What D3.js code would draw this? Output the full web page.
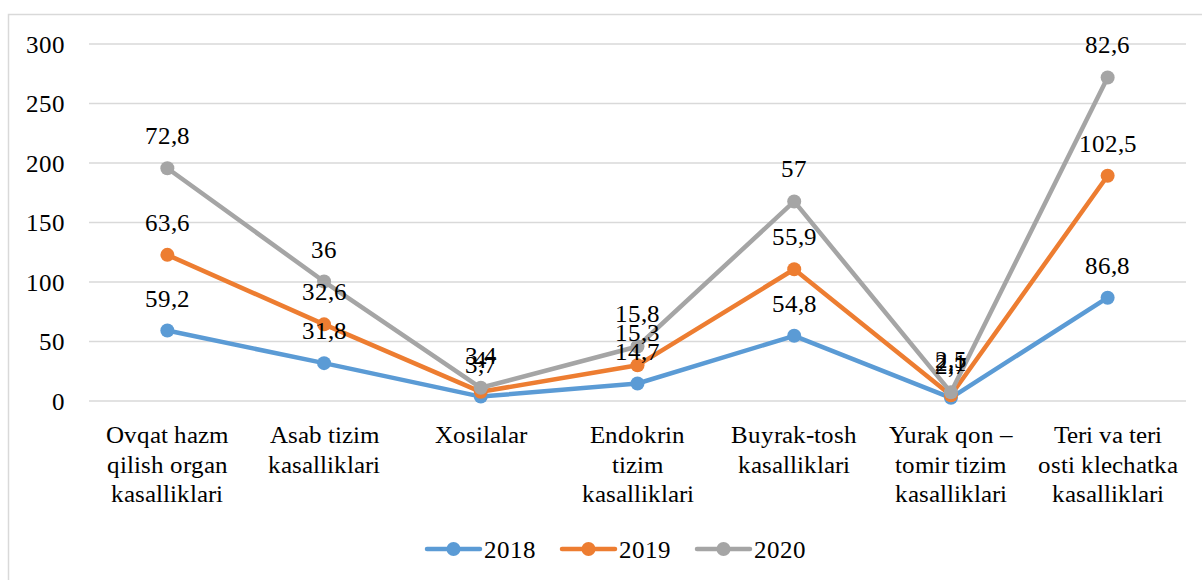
<!DOCTYPE html>
<html>
<head>
<meta charset="utf-8">
<script src="https://cdn.jsdelivr.net/npm/d3@7"></script>
<style>
  @font-face { font-family: "ChartSerif"; src: local("Liberation Serif"), local("LiberationSerif"), local("LiberationSerif-Regular"); }
  body { margin: 0; background: #fff; }
</style>
</head>
<body>
<script>
const categories = [
  ["Ovqat hazm", "qilish organ", "kasalliklari"],
  ["Asab tizim", "kasalliklari"],
  ["Xosilalar"],
  ["Endokrin", "tizim", "kasalliklari"],
  ["Buyrak-tosh", "kasalliklari"],
  ["Yurak qon \u2013", "tomir tizim", "kasalliklari"],
  ["Teri va teri", "osti klechatka", "kasalliklari"]
];
const years = ["2018", "2019", "2020"];
const values2018 = [59.2, 31.8, 3.7, 14.7, 54.8, 2.7, 86.8];
const values2019 = [63.6, 32.6, 4, 15.3, 55.9, 2.1, 102.5];
const values2020 = [72.8, 36, 3.4, 15.8, 57, 2.5, 82.6];
const yTicks = [0, 50, 100, 150, 200, 250, 300];
const colors = ["#5b9bd5", "#ed7d31", "#a5a5a5"];

const width = 1202, height = 580;
const margin = { top: 44, right: 16, bottom: 179, left: 89 };
const plotWidth = width - margin.left - margin.right;
const plotHeight = height - margin.top - margin.bottom;
const fontSize = 25;
const fontFamily = "ChartSerif, 'Liberation Serif', serif";

const series = [values2018, values2019, values2020];
// stacked line: each year sits on top of the previous ones
const stacked = series.map((vals, si) => vals.map((v, i) => ({
  i: i,
  value: v,
  top: d3.sum(series.slice(0, si + 1), s => s[i])
})));

const xScale = d3.scaleBand()
  .domain(d3.range(categories.length))
  .range([0, plotWidth]);

const yScale = d3.scaleLinear()
  .domain([0, 300])
  .range([plotHeight, 0]);

const svg = d3.select("body")
  .append("svg")
  .attr("width", width)
  .attr("height", height)
  .attr("font-family", fontFamily)
  .attr("font-size", fontSize);

// outer frame
svg.append("rect")
  .attr("x", 8.5).attr("y", 14.5)
  .attr("width", width + 10).attr("height", height + 10)
  .attr("fill", "none")
  .attr("stroke", "#d9d9d9")
  .attr("stroke-width", 1.5);

const g = svg.append("g")
  .attr("transform", `translate(${margin.left}, ${margin.top})`);

// gridlines
g.selectAll(".grid")
  .data(yTicks)
  .enter()
  .append("line")
  .attr("class", "grid")
  .attr("x1", 0).attr("x2", plotWidth)
  .attr("y1", d => yScale(d)).attr("y2", d => yScale(d))
  .attr("stroke", "#d9d9d9")
  .attr("stroke-width", 1.5);

// y axis labels
const yAxis = d3.axisLeft(yScale).tickValues(yTicks).tickSize(0).tickPadding(24);
g.append("g")
  .call(yAxis)
  .attr("font-family", null)
  .attr("font-size", null)
  .call(a => a.select(".domain").remove())
  .selectAll("text")
  .attr("fill", "#000");

// x category labels
const xl = g.selectAll(".xlabel")
  .data(categories)
  .enter()
  .append("text")
  .attr("class", "xlabel")
  .attr("x", (d, i) => xScale(i) + xScale.bandwidth() / 2)
  .attr("y", plotHeight + 42)
  .attr("text-anchor", "middle");
xl.selectAll("tspan")
  .data(d => d)
  .enter()
  .append("tspan")
  .attr("x", function() { return d3.select(this.parentNode).attr("x"); })
  .attr("dy", (d, i) => i === 0 ? 0 : 29.5)
  .text(d => d);

const cx = d => xScale(d.i) + xScale.bandwidth() / 2;
const line = d3.line().x(cx).y(d => yScale(d.top));

stacked.forEach((pts, si) => {
  g.append("path")
    .datum(pts)
    .attr("d", line)
    .attr("fill", "none")
    .attr("stroke", colors[si])
    .attr("stroke-width", 4.5)
    .attr("stroke-linejoin", "round")
    .attr("stroke-linecap", "round");

  g.selectAll(".pt" + si)
    .data(pts)
    .enter()
    .append("circle")
    .attr("class", "pt" + si)
    .attr("cx", cx)
    .attr("cy", d => yScale(d.top))
    .attr("r", 7)
    .attr("fill", colors[si]);
});

// value labels above each point
stacked.forEach((pts, si) => {
  g.selectAll(".lbl" + si)
    .data(pts)
    .enter()
    .append("text")
    .attr("class", "lbl" + si)
    .attr("x", cx)
    .attr("y", d => yScale(d.top) - 24)
    .attr("text-anchor", "middle")
    .text(d => String(d.value).replace(".", ","));
});

// legend
const legendX = [425, 560, 695];
const legend = svg.selectAll(".legend")
  .data(years)
  .enter()
  .append("g")
  .attr("class", "legend")
  .attr("transform", (d, i) => `translate(${legendX[i]}, 549)`);
legend.append("line")
  .attr("x1", 2).attr("x2", 55)
  .attr("y1", 0).attr("y2", 0)
  .attr("stroke", (d, i) => colors[i])
  .attr("stroke-width", 4.5)
  .attr("stroke-linecap", "round");
legend.append("circle")
  .attr("cx", 28.5).attr("cy", 0).attr("r", 7)
  .attr("fill", (d, i) => colors[i]);
legend.append("text")
  .attr("x", 59)
  .attr("y", 9)
  .text(d => d);

svg.selectAll("text")
  .style("font-family", fontFamily)
  .style("font-size", fontSize + "px")
  .style("fill", "#000");
</script>
</body>
</html>
